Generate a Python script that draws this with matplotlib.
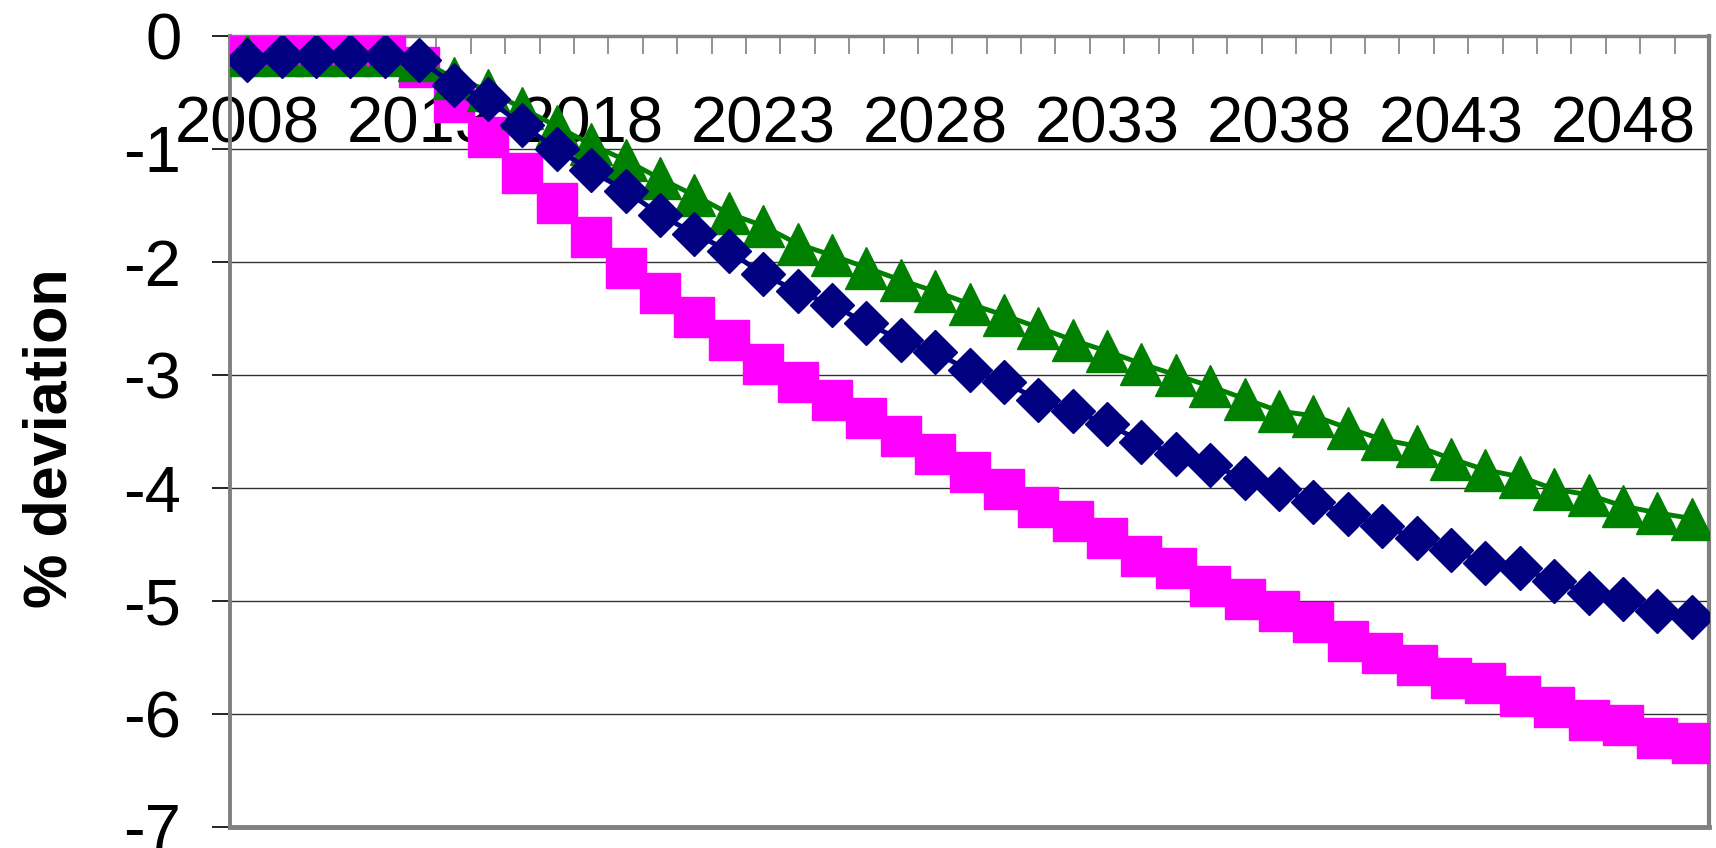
import matplotlib
matplotlib.use('Agg')
import matplotlib.pyplot as plt
from matplotlib.ticker import FixedLocator, MultipleLocator

years = list(range(2008, 2051))

magenta_vals = [-0.16, -0.16, -0.16, -0.16, -0.16, -0.27, -0.58, -0.89, -1.21, -1.48,
                -1.78, -2.05, -2.27, -2.49, -2.69, -2.90, -3.06, -3.22, -3.38, -3.54,
                -3.70, -3.86, -4.01, -4.17, -4.29, -4.44, -4.60, -4.71, -4.87, -4.98,
                -5.09, -5.19, -5.35, -5.46, -5.57, -5.68, -5.73, -5.84, -5.94, -6.05,
                -6.10, -6.21, -6.26]

green_vals = [-0.17, -0.17, -0.17, -0.17, -0.17, -0.21, -0.37, -0.48, -0.64, -0.80,
              -0.96, -1.10, -1.26, -1.41, -1.57, -1.68, -1.84, -1.94, -2.05, -2.16,
              -2.26, -2.37, -2.47, -2.58, -2.69, -2.79, -2.90, -3.00, -3.10, -3.21,
              -3.32, -3.36, -3.47, -3.57, -3.63, -3.74, -3.84, -3.90, -4.01, -4.06,
              -4.16, -4.22, -4.27]

navy_vals = [-0.21, -0.18, -0.18, -0.18, -0.18, -0.21, -0.43, -0.56, -0.79, -1.00,
             -1.19, -1.37, -1.58, -1.75, -1.90, -2.11, -2.26, -2.38, -2.54, -2.69,
             -2.80, -2.96, -3.06, -3.22, -3.32, -3.43, -3.59, -3.70, -3.80, -3.91,
             -4.01, -4.12, -4.23, -4.34, -4.44, -4.55, -4.66, -4.71, -4.82, -4.93,
             -4.98, -5.09, -5.14]

x_labels = ['2008', '2013', '2018', '2023', '2028', '2033', '2038', '2043', '2048']
y_ticks = [0, -1, -2, -3, -4, -5, -6, -7]
y_labels = ['0', '-1', '-2', '-3', '-4', '-5', '-6', '-7']

plt.rcParams['font.family'] = ['Liberation Sans', 'DejaVu Sans']

fig = plt.figure(figsize=(17.16, 8.48), dpi=100)
ax = fig.add_axes([230 / 1716, 1 - 827 / 848, 1479 / 1716, 791 / 848])

ax.plot(years, magenta_vals, color='#FF00FF', linewidth=3.5, marker='s',
        markersize=29, markeredgewidth=1, zorder=3)
ax.plot(years, green_vals, color='#008000', linewidth=3.5, marker='^',
        markersize=30, markeredgewidth=1, zorder=4)
ax.plot(years, navy_vals, color='#000080', linewidth=3.5, marker='D',
        markersize=22, markeredgewidth=1, zorder=5)

ax.set_xlim(years[0] - 0.5, years[-1] + 0.5)
ax.set_ylim(-7, 0)

# category axis crosses at 0, which is the top of the plot area
ax.spines['bottom'].set_position(('data', 0))
ax.spines['top'].set_visible(False)
ax.spines['bottom'].set_color('#808080')
ax.spines['bottom'].set_linewidth(2.5)
ax.spines['left'].set_color('#808080')
ax.spines['left'].set_linewidth(2.8)
ax.spines['right'].set_color('#808080')
ax.spines['right'].set_linewidth(3)
ax.plot([0, 1], [0, 0], transform=ax.transAxes, color='#808080',
        linewidth=3.5, clip_on=False, zorder=6)

ax.xaxis.set_major_locator(FixedLocator([int(s) for s in x_labels]))
ax.set_xticklabels(x_labels)
ax.xaxis.set_minor_locator(MultipleLocator(1, offset=0.5))
ax.tick_params(axis='x', which='major', length=0, labelsize=47, pad=43)
ax.tick_params(axis='x', which='minor', length=13, width=1.2,
               color='#808080', direction='out')

ax.set_yticks(y_ticks)
ax.set_yticklabels(y_labels)
ax.tick_params(axis='y', length=13, width=1.2, color='black',
               labelsize=47, pad=22)

ax.yaxis.grid(True, color='#333333', linewidth=1)
ax.set_axisbelow(True)

fig.text(51 / 1716, 1 - 438 / 848, '% deviation', rotation=90,
         ha='center', va='center', fontsize=44, fontweight='bold')

fig.patch.set_facecolor('white')
ax.set_facecolor('white')

fig.savefig('out.png', dpi=100)
